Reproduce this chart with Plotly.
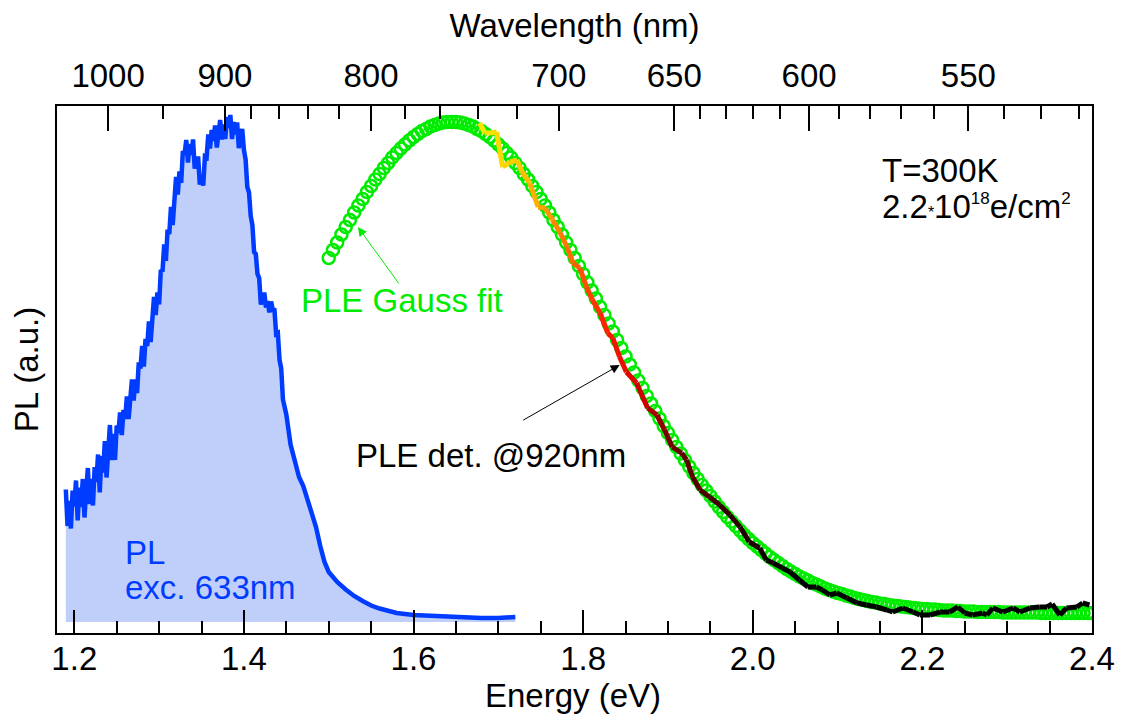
import plotly.graph_objects as go

# ---------------- data ----------------
pl_energy = [
    1.190, 1.192, 1.194, 1.196, 1.198, 1.200, 1.202, 1.204, 1.206, 1.208,
    1.210, 1.212, 1.214, 1.216, 1.218, 1.220, 1.222, 1.224, 1.226, 1.228,
    1.230, 1.232, 1.234, 1.236, 1.238, 1.240, 1.242, 1.244, 1.246, 1.248,
    1.250, 1.252, 1.254, 1.256, 1.258, 1.260, 1.262, 1.264, 1.266, 1.268,
    1.270, 1.272, 1.274, 1.276, 1.278, 1.280, 1.282, 1.284, 1.286, 1.288,
    1.290, 1.292, 1.294, 1.296, 1.298, 1.300, 1.302, 1.304, 1.306, 1.308,
    1.310, 1.312, 1.314, 1.316, 1.318, 1.320, 1.322, 1.324, 1.326, 1.328,
    1.330, 1.332, 1.334, 1.336, 1.338, 1.340, 1.342, 1.344, 1.346, 1.348,
    1.350, 1.352, 1.354, 1.356, 1.358, 1.360, 1.362, 1.364, 1.366, 1.368,
    1.370, 1.372, 1.374, 1.376, 1.378, 1.380, 1.382, 1.384, 1.386, 1.388,
    1.390, 1.392, 1.394, 1.396, 1.398, 1.400, 1.402, 1.404, 1.406, 1.408,
    1.410, 1.412, 1.414, 1.416, 1.418, 1.420, 1.422, 1.424, 1.426, 1.428,
    1.430, 1.432, 1.434, 1.436, 1.438, 1.440, 1.442, 1.444, 1.446, 1.448,
    1.450, 1.455, 1.460, 1.465, 1.470, 1.475, 1.480, 1.485, 1.490, 1.495,
    1.500, 1.510, 1.520, 1.530, 1.540, 1.550, 1.560, 1.570, 1.580, 1.600,
    1.620, 1.640, 1.660, 1.680, 1.700, 1.720,
]
pl_intensity = [
    0.265, 0.192, 0.242, 0.187, 0.263, 0.231, 0.283, 0.203, 0.269, 0.230,
    0.286, 0.209, 0.264, 0.308, 0.236, 0.286, 0.233, 0.310, 0.280, 0.335,
    0.259, 0.332, 0.299, 0.362, 0.289, 0.348, 0.394, 0.324, 0.376, 0.324,
    0.393, 0.378, 0.419, 0.374, 0.424, 0.406, 0.451, 0.406, 0.449, 0.485,
    0.443, 0.485, 0.458, 0.519, 0.507, 0.552, 0.511, 0.566, 0.552, 0.601,
    0.560, 0.608, 0.650, 0.614, 0.659, 0.635, 0.704, 0.701, 0.755, 0.722,
    0.785, 0.776, 0.830, 0.794, 0.845, 0.890, 0.855, 0.901, 0.878, 0.942,
    0.935, 0.964, 0.919, 0.956, 0.934, 0.965, 0.907, 0.922, 0.931, 0.875,
    0.888, 0.873, 0.931, 0.929, 0.975, 0.947, 0.984, 0.962, 0.993, 0.949,
    0.978, 1.004, 0.965, 0.995, 0.966, 1.010, 0.988, 1.014, 0.966, 1.000,
    0.975, 0.999, 0.948, 0.970, 0.986, 0.944, 0.925, 0.870, 0.859, 0.812,
    0.794, 0.740, 0.736, 0.696, 0.688, 0.635, 0.649, 0.659, 0.629, 0.642,
    0.619, 0.641, 0.625, 0.624, 0.576, 0.578, 0.524, 0.507, 0.445, 0.432,
    0.415, 0.355, 0.318, 0.290, 0.272, 0.245, 0.222, 0.190, 0.152, 0.120,
    0.100, 0.080, 0.065, 0.052, 0.042, 0.033, 0.027, 0.022, 0.018, 0.014,
    0.012, 0.010, 0.009, 0.008, 0.008, 0.010,
]

fit_energy = [
    1.500, 1.505, 1.510, 1.515, 1.520, 1.525, 1.530, 1.535, 1.540, 1.545,
    1.550, 1.555, 1.560, 1.565, 1.570, 1.575, 1.580, 1.585, 1.590, 1.595,
    1.600, 1.605, 1.610, 1.615, 1.620, 1.625, 1.630, 1.635, 1.640, 1.645,
    1.650, 1.655, 1.660, 1.665, 1.670, 1.675, 1.680, 1.685, 1.690, 1.695,
    1.700, 1.705, 1.710, 1.715, 1.720, 1.725, 1.730, 1.735, 1.740, 1.745,
    1.750, 1.755, 1.760, 1.765, 1.770, 1.775, 1.780, 1.785, 1.790, 1.795,
    1.800, 1.805, 1.810, 1.815, 1.820, 1.825, 1.830, 1.835, 1.840, 1.845,
    1.850, 1.855, 1.860, 1.865, 1.870, 1.875, 1.880, 1.885, 1.890, 1.895,
    1.900, 1.905, 1.910, 1.915, 1.920, 1.925, 1.930, 1.935, 1.940, 1.945,
    1.950, 1.955, 1.960, 1.965, 1.970, 1.975, 1.980, 1.985, 1.990, 1.995,
    2.000, 2.005, 2.010, 2.015, 2.020, 2.025, 2.030, 2.035, 2.040, 2.045,
    2.050, 2.055, 2.060, 2.065, 2.070, 2.075, 2.080, 2.085, 2.090, 2.095,
    2.100, 2.105, 2.110, 2.115, 2.120, 2.125, 2.130, 2.135, 2.140, 2.145,
    2.150, 2.155, 2.160, 2.165, 2.170, 2.175, 2.180, 2.185, 2.190, 2.195,
    2.200, 2.205, 2.210, 2.215, 2.220, 2.225, 2.230, 2.235, 2.240, 2.245,
    2.250, 2.255, 2.260, 2.265, 2.270, 2.275, 2.280, 2.285, 2.290, 2.295,
    2.300, 2.305, 2.310, 2.315, 2.320, 2.325, 2.330, 2.335, 2.340, 2.345,
    2.350, 2.355, 2.360, 2.365, 2.370, 2.375, 2.380, 2.385, 2.390, 2.395,
    2.400,
]
fit_intensity = [
    0.728, 0.744, 0.759, 0.775, 0.790, 0.804, 0.819, 0.833, 0.846, 0.860,
    0.872, 0.885, 0.896, 0.908, 0.918, 0.929, 0.938, 0.947, 0.955, 0.963,
    0.970, 0.976, 0.982, 0.986, 0.991, 0.994, 0.997, 0.999, 1.000, 1.000,
    1.000, 0.999, 0.997, 0.994, 0.991, 0.986, 0.982, 0.976, 0.970, 0.963,
    0.955, 0.947, 0.938, 0.929, 0.918, 0.908, 0.896, 0.885, 0.872, 0.860,
    0.846, 0.833, 0.819, 0.804, 0.790, 0.775, 0.759, 0.744, 0.728, 0.712,
    0.696, 0.679, 0.663, 0.647, 0.630, 0.614, 0.597, 0.581, 0.564, 0.548,
    0.531, 0.515, 0.499, 0.483, 0.468, 0.452, 0.437, 0.422, 0.407, 0.392,
    0.378, 0.364, 0.350, 0.337, 0.324, 0.311, 0.298, 0.286, 0.274, 0.263,
    0.252, 0.241, 0.230, 0.220, 0.210, 0.201, 0.192, 0.183, 0.174, 0.166,
    0.158, 0.151, 0.144, 0.137, 0.130, 0.124, 0.118, 0.112, 0.106, 0.101,
    0.096, 0.091, 0.087, 0.083, 0.078, 0.075, 0.071, 0.067, 0.064, 0.061,
    0.058, 0.056, 0.053, 0.051, 0.048, 0.046, 0.044, 0.042, 0.040, 0.039,
    0.037, 0.036, 0.034, 0.033, 0.032, 0.031, 0.030, 0.029, 0.028, 0.027,
    0.026, 0.026, 0.025, 0.025, 0.024, 0.023, 0.023, 0.023, 0.022, 0.022,
    0.021, 0.021, 0.021, 0.020, 0.020, 0.020, 0.020, 0.020, 0.020, 0.019,
    0.019, 0.019, 0.019, 0.019, 0.019, 0.019, 0.019, 0.019, 0.018, 0.018,
    0.018, 0.018, 0.018, 0.018, 0.018, 0.018, 0.018, 0.018, 0.018, 0.018,
    0.018,
]

ple_energy = [
    1.678, 1.684, 1.690, 1.698, 1.705, 1.714, 1.722, 1.728, 1.737, 1.747,
    1.755, 1.764, 1.773, 1.781, 1.788, 1.796, 1.804, 1.811, 1.820, 1.829,
    1.835, 1.843, 1.851, 1.863, 1.876, 1.887, 1.896, 1.905, 1.916, 1.922,
    1.929, 1.938, 1.949, 1.961, 1.973, 1.985, 1.996, 2.008, 2.016, 2.024,
    2.035, 2.044, 2.055, 2.065, 2.075, 2.082, 2.091, 2.099, 2.111, 2.123,
    2.134, 2.146, 2.158, 2.165, 2.177, 2.189, 2.197, 2.209, 2.221, 2.232,
    2.242, 2.250, 2.259, 2.271, 2.276, 2.283, 2.295, 2.307, 2.315, 2.327,
    2.338, 2.347, 2.353, 2.362, 2.370, 2.382, 2.389, 2.397,
]
ple_intensity = [
    0.998, 0.978, 0.978, 0.980, 0.910, 0.920, 0.924, 0.900, 0.878, 0.830,
    0.828, 0.804, 0.778, 0.750, 0.718, 0.708, 0.670, 0.644, 0.618, 0.578,
    0.568, 0.530, 0.500, 0.478, 0.428, 0.414, 0.384, 0.350, 0.338, 0.324,
    0.290, 0.264, 0.250, 0.234, 0.214, 0.190, 0.160, 0.148, 0.124, 0.118,
    0.108, 0.100, 0.084, 0.070, 0.070, 0.064, 0.054, 0.058, 0.048, 0.038,
    0.034, 0.030, 0.024, 0.020, 0.028, 0.020, 0.014, 0.014, 0.020, 0.020,
    0.030, 0.018, 0.014, 0.018, 0.014, 0.028, 0.020, 0.028, 0.020, 0.028,
    0.030, 0.030, 0.036, 0.014, 0.028, 0.030, 0.038, 0.034,
]

energy_ticks = [1.2, 1.4, 1.6, 1.8, 2.0, 2.2, 2.4]
wavelength_major = [1000, 900, 800, 700, 650, 600, 550]
wavelength_minor = [950, 880, 860, 840, 820, 780, 760, 740, 720,
                    640, 630, 620, 610, 590, 580, 570, 560, 540, 530, 520]

# ---------------- styling ----------------
FONT = "Liberation Sans, Arial, Helvetica, sans-serif"
FS = 33
XR = [1.1796, 2.4]
YR = [-0.022, 1.032]
HC = 1239.84  # eV*nm

GREEN = "rgb(0,235,0)"
BLUE = "rgb(0,60,255)"

fig = go.Figure()

# PL spectrum with fill
fig.add_trace(go.Scatter(
    x=pl_energy, y=pl_intensity, mode="lines", fill="tozeroy",
    fillcolor="rgb(191,207,250)", line=dict(color=BLUE, width=4.5),
    hoverinfo="skip", showlegend=False))

# Gauss fit (open circles)
fig.add_trace(go.Scatter(
    x=fit_energy, y=fit_intensity, mode="markers",
    marker=dict(symbol="circle-open", size=12, color=GREEN,
                line=dict(color=GREEN, width=2.5)),
    hoverinfo="skip", showlegend=False))

# PLE measured line with colour gradient
stops = [(1.68, (255, 228, 0)), (1.72, (255, 205, 0)), (1.76, (255, 150, 0)),
         (1.80, (255, 80, 0)), (1.83, (255, 25, 0)), (1.87, (205, 0, 0)),
         (1.90, (120, 0, 0)), (1.96, (60, 0, 0)), (2.04, (0, 0, 0))]


def grad(e):
    if e <= stops[0][0]:
        return stops[0][1]
    for (e0, c0), (e1, c1) in zip(stops[:-1], stops[1:]):
        if e0 <= e <= e1:
            t = (e - e0) / (e1 - e0)
            return tuple(int(round(a + (b - a) * t)) for a, b in zip(c0, c1))
    return stops[-1][1]


for i in range(len(ple_energy) - 1):
    c = grad(0.5 * (ple_energy[i] + ple_energy[i + 1]))
    fig.add_trace(go.Scatter(
        x=ple_energy[i:i + 2], y=ple_intensity[i:i + 2], mode="lines",
        line=dict(color="rgb(%d,%d,%d)" % c, width=5),
        hoverinfo="skip", showlegend=False))

# invisible trace to activate top axis
fig.add_trace(go.Scatter(x=[XR[0]], y=[YR[0]], xaxis="x2", mode="markers",
                         marker=dict(opacity=0), hoverinfo="skip",
                         showlegend=False))

axis_common = dict(showgrid=False, zeroline=False, showline=True,
                   linecolor="black", linewidth=2, ticks="inside",
                   tickcolor="black", tickwidth=2, automargin=False,
                   tickfont=dict(family=FONT, size=FS, color="black"))

fig.update_layout(
    width=1124, height=716,
    margin=dict(l=57, r=32, t=106, b=83),
    paper_bgcolor="white", plot_bgcolor="white",
    font=dict(family=FONT, size=FS, color="black"),
    showlegend=False,
    xaxis=dict(range=XR, tickmode="array", tickvals=energy_ticks,
               ticktext=["%.1f" % v for v in energy_ticks], ticklen=23,
               minor=dict(dtick=0.05, tick0=1.2, ticks="inside", ticklen=12,
                          tickwidth=2, tickcolor="black"),
               ticklabelstandoff=-5,
               **axis_common),
    xaxis2=dict(range=XR, overlaying="x", side="top", anchor="y",
                tickmode="array", tickvals=[HC / w for w in wavelength_major],
                ticktext=[str(w) for w in wavelength_major], ticklen=25,
                minor=dict(tickvals=[HC / w for w in wavelength_minor],
                           ticks="inside", ticklen=13, tickwidth=2,
                           tickcolor="black"),
                ticklabelstandoff=4,
                title=dict(text="Wavelength (nm)", font=dict(family=FONT, size=FS),
                           standoff=9),
                **axis_common),
    yaxis=dict(range=YR, showgrid=False, zeroline=False, showline=True,
               mirror=True, linecolor="black", linewidth=2, ticks="",
               showticklabels=False, automargin=False,
               title=dict(text="PL (a.u.)", font=dict(family=FONT, size=FS),
                          standoff=6)),
)

ann = [
    dict(x=0.4986, y=-0.1195, xref="paper", yref="paper", text="Energy (eV)",
         xanchor="center", yanchor="middle", showarrow=False,
         font=dict(color="black", size=FS, family=FONT)),
    dict(x=1.2574, y=0.14, text="PL", xanchor="left", yanchor="middle",
         showarrow=False, font=dict(color=BLUE, size=FS, family=FONT)),
    dict(x=1.2574, y=0.07, text="exc. 633nm", xanchor="left", yanchor="middle",
         showarrow=False, font=dict(color=BLUE, size=FS, family=FONT)),
    dict(x=1.5862, y=0.644, text="PLE Gauss fit", xanchor="center",
         yanchor="middle", showarrow=False,
         font=dict(color=GREEN, size=FS, family=FONT)),
    dict(x=1.5344, y=0.79, ax=42, ay=58, text="", showarrow=True,
         arrowhead=2, arrowsize=1.8, arrowwidth=1, arrowcolor=GREEN),
    dict(x=1.691, y=0.334, text="PLE det. @920nm", xanchor="center",
         yanchor="middle", showarrow=False,
         font=dict(color="black", size=FS, family=FONT)),
    dict(x=1.8431, y=0.514, ax=-98, ay=56, text="", showarrow=True,
         arrowhead=2, arrowsize=1.8, arrowwidth=1, arrowcolor="black"),
    dict(x=2.1496, y=0.904, text="T=300K", xanchor="left", yanchor="middle",
         showarrow=False, font=dict(color="black", size=FS, family=FONT)),
    dict(x=2.1496, y=0.832,
         text=("2.2<span style='font-size:16px'>*</span>10"
               "<sup><span style='font-size:17px'>18</span></sup>e/cm"
               "<sup><span style='font-size:17px'>2</span></sup>"),
         xanchor="left", yanchor="middle", showarrow=False,
         font=dict(color="black", size=FS, family=FONT)),
]
for a in ann:
    a.setdefault("xref", "x")
    a.setdefault("yref", "y")
    if a.get("showarrow"):
        a["axref"] = "pixel"
        a["ayref"] = "pixel"
    fig.add_annotation(**a)

fig.write_html("out.html")
